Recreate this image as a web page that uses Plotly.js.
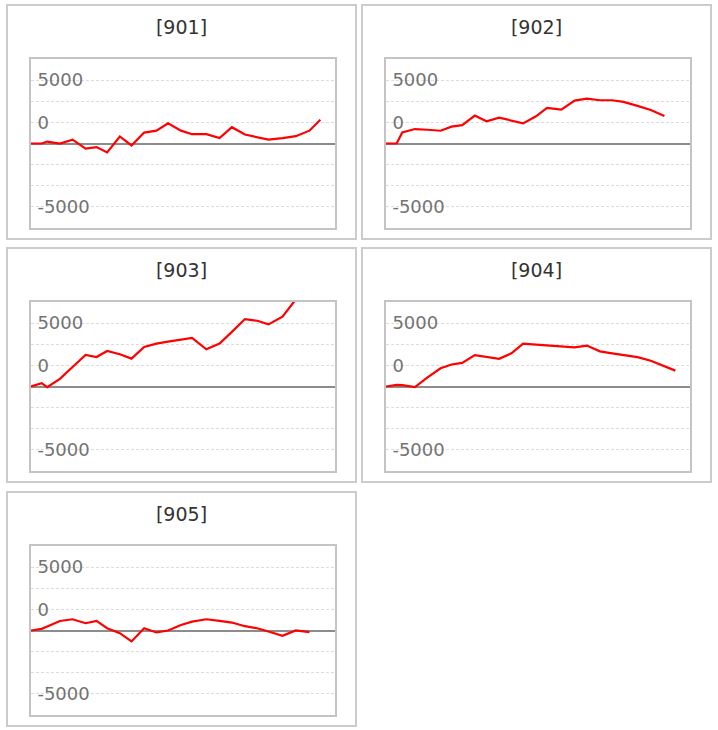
<!DOCTYPE html>
<html>
<head>
<meta charset="utf-8">
<script src="https://cdn.plot.ly/plotly-3.0.1.min.js"></script>
<style>
  body { margin: 0; background: #fff; }
  .panel {
    position: absolute;
    box-sizing: border-box;
    width: 351px;
    height: 236px;
    border: 2px solid #cccccc;
    background: #fff;
  }
</style>
</head>
<body>
<div id="p901" class="panel" style="left:6px; top:4px;"></div>
<div id="p902" class="panel" style="left:361px; top:4px;"></div>
<div id="p903" class="panel" style="left:6px; top:247px;"></div>
<div id="p904" class="panel" style="left:361px; top:247px;"></div>
<div id="p905" class="panel" style="left:6px; top:491px;"></div>
<script>
// shared x positions (periods)
const xSteps = [0, 0.86, 1.31, 2.33, 3.35, 4.40, 5.28, 6.14, 7.16, 8.10, 9.12, 10.11,
  11.05, 12.09, 12.98, 14.13, 15.20, 16.19, 17.24, 18.23, 19.14, 20.27, 21.34, 22.44, 23.32];

const titles = ["[901]", "[902]", "[903]", "[904]", "[905]"];
const divIds = ["p901", "p902", "p903", "p904", "p905"];

const series901 = [0, 0, 230, 0, 455, -610, -420, -1060, 830, -230, 1290, 1520, 2390,
  1520, 1100, 1100, 640, 1930, 1060, 720, 455, 640, 870, 1520, 2800];
const series902 = [0, 0, 1310, 1710, 1630, 1510, 1990, 2180, 3300, 2620, 3060, 2700,
  2380, 3220, 4210, 4010, 5080, 5320, 5120, 5120, 4920, 4450, 3970, 3260];
const series903 = [0, 400, -80, 910, 2300, 3730, 3490, 4210, 3810, 3300, 4690, 5080,
  5320, 5560, 5760, 4410, 5080, 6470, 7980, 7780, 7350, 8260, 10300];
const series904 = [0, 200, 160, -80, 1080, 2160, 2600, 2800, 3720, 3480, 3280, 3920,
  5080, 4960, 4880, 4760, 4640, 4840, 4160, 3920, 3720, 3480, 3040, 2400, 1880];
const series905 = [0, 195, 470, 1130, 1330, 860, 1130, 270, -310, -1290, 270, -230,
  0, 660, 1050, 1330, 1130, 940, 510, 270, -120, -620, 0, -195];

const allSeries = [series901, series902, series903, series904, series905];

// gridlines every 2500, labels as printed on the original
const yTickVals = [-7500, -5000, -2500, 0, 2500, 5000, 7500];
const yTickText = ["-5000", "", "", "", "0", "", "5000"];

const FRAME = "#c4c4c4";

function drawPanel(divId, title, ys) {
  const trace = {
    x: xSteps.slice(0, ys.length),
    y: ys,
    type: "scatter",
    mode: "lines",
    line: { color: "#ff0000", width: 2.2 },
    hoverinfo: "skip"
  };
  const layout = {
    width: 347,
    height: 232,
    margin: { l: 23, r: 20, t: 53, b: 10 },
    paper_bgcolor: "#fff",
    plot_bgcolor: "#fff",
    showlegend: false,
    font: { family: "DejaVu Sans, Verdana, sans-serif" },
    title: {
      text: title,
      x: 0.5,
      xanchor: "center",
      y: 0.91,
      yanchor: "middle",
      yref: "container",
      font: { size: 19, color: "#333" }
    },
    xaxis: {
      range: [0, 24.5],
      showgrid: false,
      zeroline: false,
      showticklabels: false,
      ticks: "",
      showline: true,
      mirror: true,
      linecolor: FRAME,
      linewidth: 2,
      fixedrange: true
    },
    yaxis: {
      range: [-10000, 10000],
      tickmode: "array",
      tickvals: yTickVals,
      ticktext: yTickText,
      ticks: "",
      ticklabelposition: "inside",
      ticklabelstandoff: 7,
      tickfont: { size: 18, color: "#737373" },
      showgrid: true,
      gridcolor: "#dcdcdc",
      gridwidth: 1,
      griddash: "3px,2px",
      zeroline: true,
      zerolinecolor: "#8c8c8c",
      zerolinewidth: 2,
      showline: true,
      mirror: true,
      linecolor: FRAME,
      linewidth: 2,
      fixedrange: true
    }
  };
  Plotly.newPlot(divId, [trace], layout, { displayModeBar: false, staticPlot: true });
}

divIds.forEach((id, i) => drawPanel(id, titles[i], allSeries[i]));
</script>
</body>
</html>
